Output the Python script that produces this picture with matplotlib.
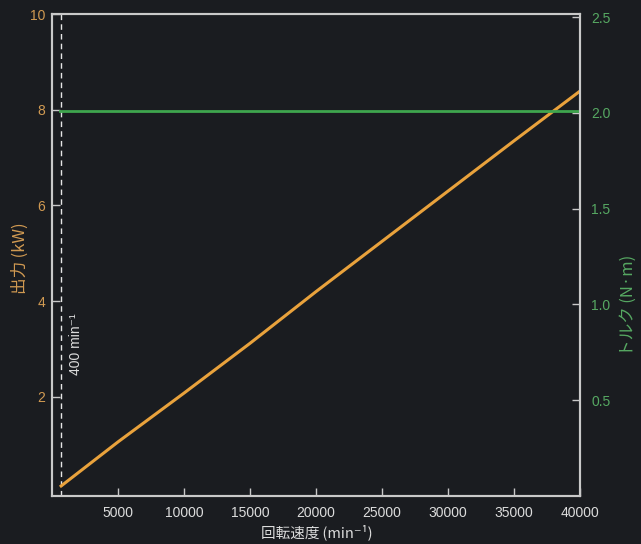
import matplotlib
matplotlib.use("Agg")
import matplotlib.pyplot as plt

plt.rcParams['font.family'] = ['Liberation Sans', 'Noto Sans CJK JP', 'DejaVu Sans']

# Data
rpm = [600, 5000, 10000, 15000, 20000, 25000, 30000, 35000, 40000]
power_kw = [0.12, 1.06, 2.08, 3.12, 4.2, 5.25, 6.3, 7.35, 8.39]
torque_rpm = [600, 40000]
torque_nm = [2.01, 2.01]
marker_rpm = 650
marker_label = "400 min⁻¹"

x_ticks = [5000, 10000, 15000, 20000, 25000, 30000, 35000, 40000]
left_ticks = [2, 4, 6, 8, 10]
right_ticks = [0.5, 1.0, 1.5, 2.0, 2.5]

bg = '#1a1c20'
frame = '#c9c9c9'
orange = '#e9a23c'
orange_txt = '#d19a52'
green = '#3fa54e'
green_txt = '#56a862'
white_txt = '#dcdcdc'

cjk = ['Noto Sans CJK JP', 'DejaVu Sans']
fam = ['Liberation Sans', 'DejaVu Sans']

fig = plt.figure(figsize=(6.41, 5.44), dpi=100, facecolor=bg)
ax = fig.add_axes([52/641, 1-496/544, (580-52)/641, (496-14)/544])
ax.set_facecolor(bg)
ax2 = ax.twinx()

ax.plot(rpm, power_kw, color=orange, lw=2.2, solid_capstyle='butt', zorder=3)
ax2.plot(torque_rpm, torque_nm, color=green, lw=2.0, zorder=2)
ax.axvline(marker_rpm, color='#e6e6e6', lw=1.0, ls=(0, (4, 3)), zorder=1)
ax.text(marker_rpm + 650, 3.1, marker_label, rotation=90, color=white_txt,
        fontsize=10, ha='left', va='center', family=fam)

ax.set_xlim(0, 40000)
ax.set_ylim(-0.07, 10.0)
ax2.set_ylim(0, 2.516)

ax.set_xticks(x_ticks)
ax.set_xticklabels([str(v) for v in x_ticks])
ax.set_yticks(left_ticks)
ax.set_yticklabels([str(v) for v in left_ticks])
ax2.set_yticks(right_ticks)
ax2.set_yticklabels([f"{v:.1f}" for v in right_ticks])

for a in (ax, ax2):
    for s in a.spines.values():
        s.set_color(frame)
        s.set_linewidth(1.5)

ax.tick_params(axis='x', direction='in', length=6, width=1, color=frame,
               labelcolor=white_txt, labelsize=10, pad=7)
ax.tick_params(axis='y', direction='in', length=6, width=1, color=frame,
               labelcolor=orange_txt, labelsize=10, pad=5)
ax2.tick_params(axis='y', direction='in', length=6, width=1, color=frame,
                labelcolor=green_txt, labelsize=10, pad=8)

fig.text(317/641, 1-532/544, "回転速度\u2009(min⁻¹)", color=white_txt, fontsize=10.5,
         ha='center', va='center', family=cjk)
fig.text(20/641, 1-258/544, "出力\u2009(kW)", color=orange_txt, fontsize=12,
         rotation=90, ha='center', va='center', family=cjk)
fig.text(628/641, 1-305/544, "トルク\u2009(N·m)", color=green_txt, fontsize=12,
         rotation=90, ha='center', va='center', family=cjk)

fig.savefig("out.png", dpi=100, facecolor=bg)
